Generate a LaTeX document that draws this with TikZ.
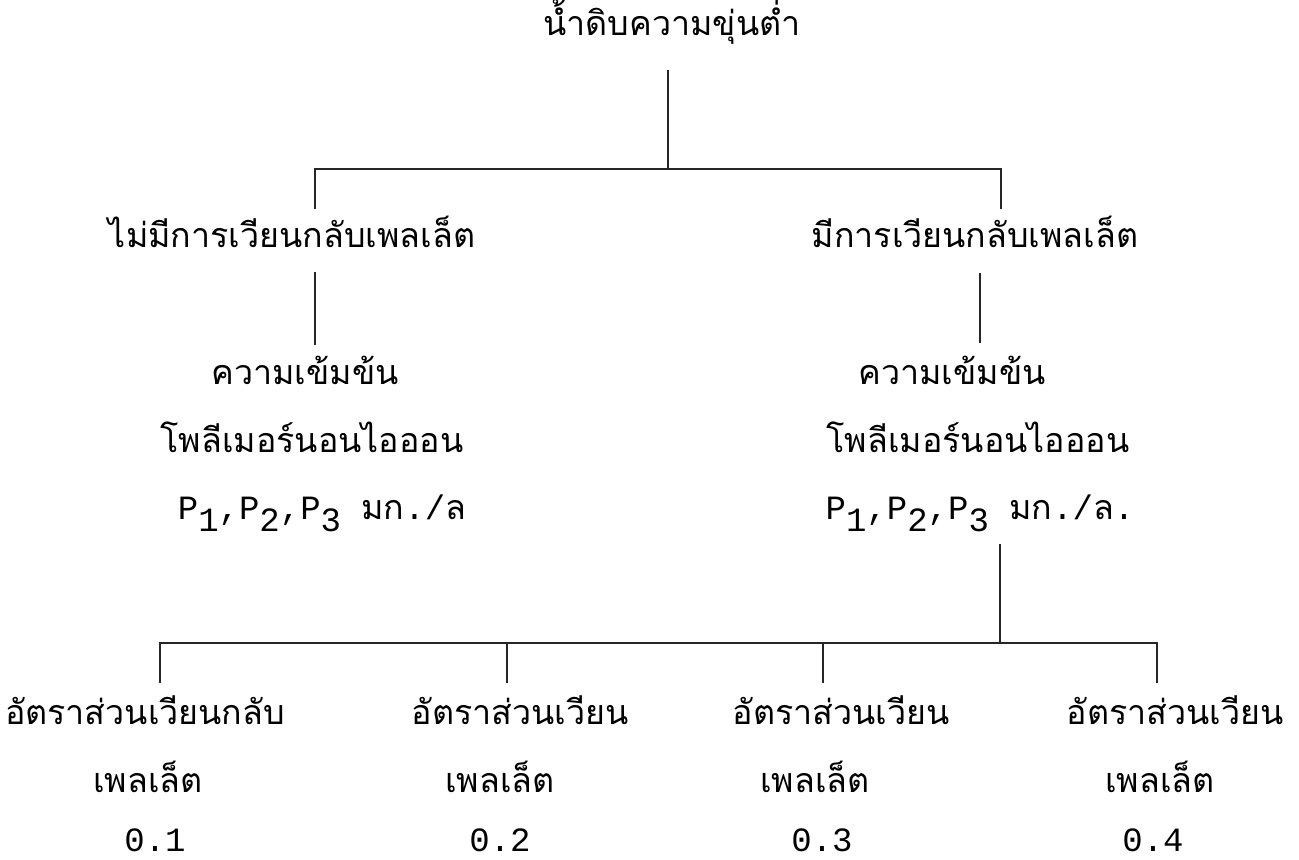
\documentclass[tikz,border=0pt]{standalone}
\usepackage{fontspec}
\newfontfamily\thaifont[Script=Thai]{Loma}
\newfontfamily\twfont{Liberation Mono}
\begin{document}
\begin{tikzpicture}[x=0.5pt,y=-0.5pt,
  th/.style={inner sep=0pt, anchor=center, font=\thaifont\fontsize{17}{20}\selectfont},
  nm/.style={inner sep=0pt, anchor=center, font=\twfont\fontsize{17}{20}\selectfont},
  ln/.style={line width=0.8pt, black!85}]
\useasboundingbox (0,0) rectangle (1299,859);
% texts
\node[th] (top) at (672,22) {น้ำดิบความขุ่นต่ำ};
\node[th] (noR) at (292,232) {ไม่มีการเวียนกลับเพลเล็ต};
\node[th] (yesR) at (975,232) {มีการเวียนกลับเพลเล็ต};
\node[th] (lc1) at (305,370) {ความเข้มข้น};
\node[th] (lc2) at (312,437) {โพลีเมอร์นอนไอออน};
\node[nm] (lc3) at (322,513) {P\raisebox{-0.35em}{1},P\raisebox{-0.35em}{2},P\raisebox{-0.35em}{3} {\thaifont มก}./{\thaifont ล}};
\node[th] (rc1) at (952,370) {ความเข้มข้น};
\node[th] (rc2) at (978,437) {โพลีเมอร์นอนไอออน};
\node[nm] (rc3) at (980,513) {P\raisebox{-0.35em}{1},P\raisebox{-0.35em}{2},P\raisebox{-0.35em}{3} {\thaifont มก}./{\thaifont ล}.};
\node[th] (a1) at (145,710) {อัตราส่วนเวียนกลับ};
\node[th] (b1) at (148,777) {เพลเล็ต};
\node[nm] (c1) at (155,840) {0.1};
\node[th] (a2) at (520,710) {อัตราส่วนเวียน};
\node[th] (b2) at (500,777) {เพลเล็ต};
\node[nm] (c2) at (500,840) {0.2};
\node[th] (a3) at (841,710) {อัตราส่วนเวียน};
\node[th] (b3) at (815,777) {เพลเล็ต};
\node[nm] (c3) at (822,840) {0.3};
\node[th] (a4) at (1175,710) {อัตราส่วนเวียน};
\node[th] (b4) at (1160,777) {เพลเล็ต};
\node[nm] (c4) at (1153,840) {0.4};
% connector points
\coordinate (t0) at (668,70);
\coordinate (t1) at (668,169);
\coordinate (hL) at (315,169);
\coordinate (hR) at (1001,169);
\coordinate (dL) at (315,209);
\coordinate (dR) at (1001,209);
\coordinate (vL0) at (315,272);
\coordinate (vL1) at (315,345);
\coordinate (vR0) at (980,273);
\coordinate (vR1) at (980,343);
\coordinate (b0) at (1000,544);
\coordinate (b1j) at (1000,643);
\coordinate (h1) at (160,643);
\coordinate (h2) at (507,643);
\coordinate (h3) at (823,643);
\coordinate (h4) at (1157,643);
\coordinate (e1) at (160,683);
\coordinate (e2) at (507,683);
\coordinate (e3) at (823,683);
\coordinate (e4) at (1157,683);
% lines
\draw[ln] (t0) -- (t1);
\draw[ln] (dL) -- (hL) -- (hR) -- (dR);
\draw[ln] (vL0) -- (vL1);
\draw[ln] (vR0) -- (vR1);
\draw[ln] (b0) -- (b1j);
\draw[ln] (e1) -- (h1) -- (h4) -- (e4);
\draw[ln] (h2) -- (e2);
\draw[ln] (h3) -- (e3);
\end{tikzpicture}
\end{document}
